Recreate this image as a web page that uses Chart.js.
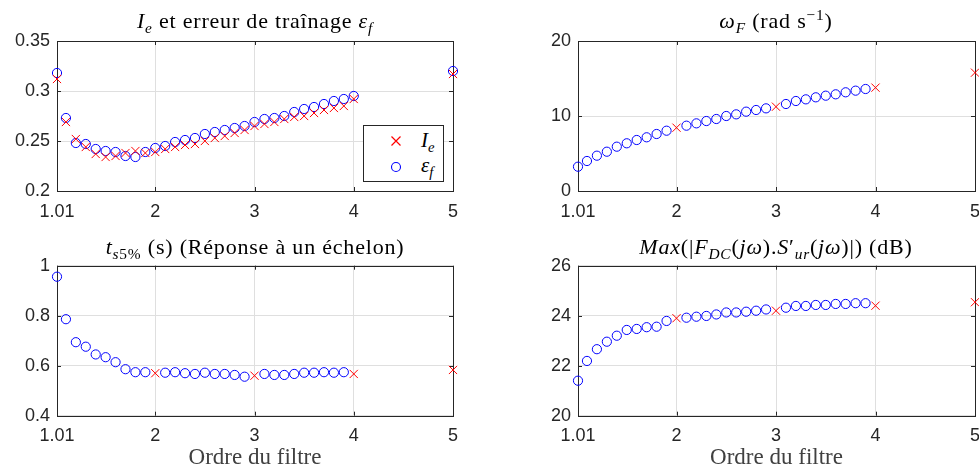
<!DOCTYPE html>
<html><head><meta charset="utf-8">
<script src="https://cdn.jsdelivr.net/npm/chart.js@4.4.1/dist/chart.umd.min.js"></script>
<style>
html,body{margin:0;padding:0;background:#fff;}
body{width:979px;height:469px;overflow:hidden;position:relative;}
.pane{position:absolute;}
.ttl{position:absolute;font-family:"Liberation Serif",serif;font-size:22px;letter-spacing:0.8px;color:#000;white-space:nowrap;transform:translateX(-50%);line-height:1;}
.ttl sub,.ttl sup,.leg sub{font-size:70%;line-height:0;}
.legend{position:absolute;left:363px;top:125px;width:81px;height:57px;border:1px solid #262626;background:#fff;box-sizing:border-box;}
.legend svg{position:absolute;left:0;top:0;}
.leg{position:absolute;left:57px;font-family:"Liberation Serif",serif;font-size:21px;font-style:italic;line-height:1;color:#000;}
</style></head>
<body>
<div class="pane" style="left:0;top:0;width:480px;height:230px;"><canvas id="c1"></canvas></div>
<div class="pane" style="left:480px;top:0;width:520px;height:230px;"><canvas id="c2"></canvas></div>
<div class="pane" style="left:0;top:230px;width:480px;height:239px;"><canvas id="c3"></canvas></div>
<div class="pane" style="left:480px;top:230px;width:520px;height:239px;"><canvas id="c4"></canvas></div>

<div class="ttl" style="left:255px;top:10px;"><i>I<sub>e</sub></i> et erreur de traînage <i>ε<sub>f</sub></i></div>
<div class="ttl" style="left:776px;top:10px;"><i>ω<sub>F</sub></i> (rad s<sup>−1</sup>)</div>
<div class="ttl" style="left:255px;top:236px;"><i>t<sub>s</sub></i><sub>5%</sub> (s) (Réponse à un échelon)</div>
<div class="ttl" style="left:776px;top:236px;"><i>Max</i>(|<i>F<sub>DC</sub></i>(<i>jω</i>).<i>S</i>′<sub><i>ur</i></sub>(<i>jω</i>)|) (dB)</div>

<div class="legend">
  <svg width="81" height="57" xmlns="http://www.w3.org/2000/svg">
    <path d="M27.5 10.5 L36.5 19.5 M27.5 19.5 L36.5 10.5" style="stroke:#ff0000;stroke-width:1.2;fill:none"/>
    <circle cx="32" cy="41" r="4.5" style="fill:none;stroke:#0000ff;stroke-width:1.1"/>
  </svg>
  <span class="leg" style="top:4px;">I<sub>e</sub></span>
  <span class="leg" style="top:29px;">ε<sub>f</sub></span>
</div>

<script>
const orders = [1.01, 1.1, 1.2, 1.3, 1.4, 1.5, 1.6, 1.7, 1.8, 1.9, 2, 2.1, 2.2, 2.3, 2.4, 2.5, 2.6, 2.7, 2.8, 2.9, 3, 3.1, 3.2, 3.3, 3.4, 3.5, 3.6, 3.7, 3.8, 3.9, 4, 5];
const xTickValues = [1.01, 2, 3, 4, 5];

const ieValues = [0.312, 0.269, 0.252, 0.244, 0.237, 0.234, 0.235, 0.238, 0.240, 0.238, 0.239, 0.242, 0.244, 0.246, 0.247, 0.250, 0.253, 0.255, 0.258, 0.261, 0.265, 0.267, 0.269, 0.272, 0.274, 0.275, 0.278, 0.281, 0.283, 0.285, 0.292, 0.317];
const efValues = [0.318, 0.273, 0.248, 0.247, 0.242, 0.240, 0.239, 0.235, 0.234, 0.239, 0.243, 0.245, 0.249, 0.251, 0.253, 0.257, 0.259, 0.261, 0.263, 0.265, 0.269, 0.272, 0.273, 0.275, 0.279, 0.282, 0.284, 0.287, 0.290, 0.292, 0.295, 0.320];
const omegaValues = [3.24, 4.0, 4.71, 5.24, 5.91, 6.36, 6.8, 7.16, 7.6, 8.04, 8.44, 8.71, 9.02, 9.33, 9.6, 10.0, 10.22, 10.58, 10.8, 11.02, 11.24, 11.6, 12.0, 12.22, 12.49, 12.71, 12.89, 13.16, 13.38, 13.6, 13.78, 15.78];
const tsValues = [0.956, 0.786, 0.694, 0.676, 0.645, 0.634, 0.614, 0.586, 0.574, 0.574, 0.570, 0.572, 0.574, 0.570, 0.567, 0.572, 0.567, 0.567, 0.563, 0.556, 0.560, 0.567, 0.563, 0.563, 0.567, 0.572, 0.572, 0.574, 0.572, 0.574, 0.567, 0.583];
const maxDbValues = [21.4, 22.19, 22.66, 22.96, 23.2, 23.43, 23.47, 23.54, 23.56, 23.79, 23.9, 23.92, 23.96, 23.99, 24.05, 24.13, 24.13, 24.16, 24.2, 24.25, 24.2, 24.32, 24.39, 24.39, 24.43, 24.43, 24.47, 24.47, 24.5, 24.5, 24.4, 24.54];

const yTicksIe = [0.2, 0.25, 0.3, 0.35];
const yTicksOmega = [0, 10, 20];
const yTicksTs = [0.4, 0.6, 0.8, 1];
const yTicksDb = [20, 22, 24, 26];
const xAxisTitle = 'Ordre du filtre';

const RED = '#ff0000', BLUE = '#0000ff', AXIS = '#262626', GRID = '#dfdfdf';

function pts(vals, filter) {
  const out = [];
  orders.forEach((x, i) => { if (!filter || filter(x)) out.push({x: x, y: vals[i]}); });
  return out;
}
const isInt = x => Number.isInteger(x);
const notInt = x => !Number.isInteger(x);

function redSet(data) {
  return {data, pointStyle: 'crossRot', pointRadius: 5.8, pointHoverRadius: 5.8,
    borderColor: RED, backgroundColor: RED, pointBorderWidth: 1, borderWidth: 1, showLine: false, clip: false};
}
function blueSet(data) {
  return {data, pointStyle: 'circle', pointRadius: 4.6, pointHoverRadius: 4.6,
    borderColor: BLUE, backgroundColor: 'rgba(0,0,0,0)', pointBorderWidth: 1, borderWidth: 1, showLine: false, clip: false};
}

const boxPlugin = {
  id: 'matlabBox',
  beforeDatasetsDraw(chart) {
    const {ctx, chartArea: a, scales: {x, y}} = chart;
    ctx.save();
    ctx.strokeStyle = AXIS;
    ctx.lineWidth = 1;
    ctx.beginPath();
    x.ticks.forEach(t => {
      const p = Math.round(x.getPixelForValue(t.value)) + 0.5;
      ctx.moveTo(p, a.bottom); ctx.lineTo(p, a.bottom - 4);
      ctx.moveTo(p, a.top); ctx.lineTo(p, a.top + 4);
    });
    y.ticks.forEach(t => {
      const p = Math.round(y.getPixelForValue(t.value)) + 0.5;
      ctx.moveTo(a.left, p); ctx.lineTo(a.left + 4, p);
      ctx.moveTo(a.right, p); ctx.lineTo(a.right - 4, p);
    });
    ctx.stroke();
    ctx.strokeRect(Math.round(a.left) + 0.5, Math.round(a.top) + 0.5, Math.round(a.right - a.left), Math.round(a.bottom - a.top));
    ctx.restore();
  }
};

function makeChart(id, datasets, yTicks, cfg) {
  const tickFont = {family: '"Liberation Sans", Arial, sans-serif', size: 18};
  return new Chart(document.getElementById(id), {
    type: 'scatter',
    data: {datasets},
    plugins: [boxPlugin],
    options: {
      responsive: true, maintainAspectRatio: false, animation: false,
      layout: {padding: cfg.padding},
      plugins: {legend: {display: false}, tooltip: {enabled: false}, title: {display: false}},
      scales: {
        x: {
          type: 'linear', min: xTickValues[0], max: xTickValues[xTickValues.length - 1],
          afterBuildTicks: s => { s.ticks = xTickValues.map(v => ({value: v})); },
          afterFit: s => { s.height = cfg.xHeight; s.paddingLeft = 0; s.paddingRight = 0; },
          ticks: {font: tickFont, color: AXIS, padding: 10, maxRotation: 0, autoSkip: false, callback: v => String(v)},
          grid: {color: GRID, lineWidth: 1, drawTicks: false},
          border: {display: false},
          title: cfg.xTitle ? {display: true, text: cfg.xTitle, color: '#404040',
            font: {family: '"Liberation Serif", serif', size: 23, lineHeight: 1}, padding: {top: 0, bottom: 0}} : {display: false}
        },
        y: {
          type: 'linear', min: yTicks[0], max: yTicks[yTicks.length - 1],
          afterBuildTicks: s => { s.ticks = yTicks.map(v => ({value: v})); },
          afterFit: s => { s.width = cfg.yWidth; s.paddingTop = 0; s.paddingBottom = 0; },
          ticks: {font: tickFont, color: AXIS, padding: 7, autoSkip: false, callback: v => String(v)},
          grid: {color: GRID, lineWidth: 1, drawTicks: false},
          border: {display: false}
        }
      }
    }
  });
}

makeChart('c1', [redSet(pts(ieValues)), blueSet(pts(efValues))], yTicksIe,
  {padding: {top: 41, right: 27, left: 0, bottom: 0}, yWidth: 57, xHeight: 39});
makeChart('c2', [blueSet(pts(omegaValues, notInt)), redSet(pts(omegaValues, isInt))], yTicksOmega,
  {padding: {top: 41, right: 25, left: 0, bottom: 0}, yWidth: 98, xHeight: 39});
makeChart('c3', [blueSet(pts(tsValues, notInt)), redSet(pts(tsValues, isInt))], yTicksTs,
  {padding: {top: 35.7, right: 27, left: 0, bottom: 0}, yWidth: 57, xHeight: 53.3, xTitle: xAxisTitle});
makeChart('c4', [blueSet(pts(maxDbValues, notInt)), redSet(pts(maxDbValues, isInt))], yTicksDb,
  {padding: {top: 35.7, right: 25, left: 0, bottom: 0}, yWidth: 98, xHeight: 53.3, xTitle: xAxisTitle});
</script>
</body></html>
